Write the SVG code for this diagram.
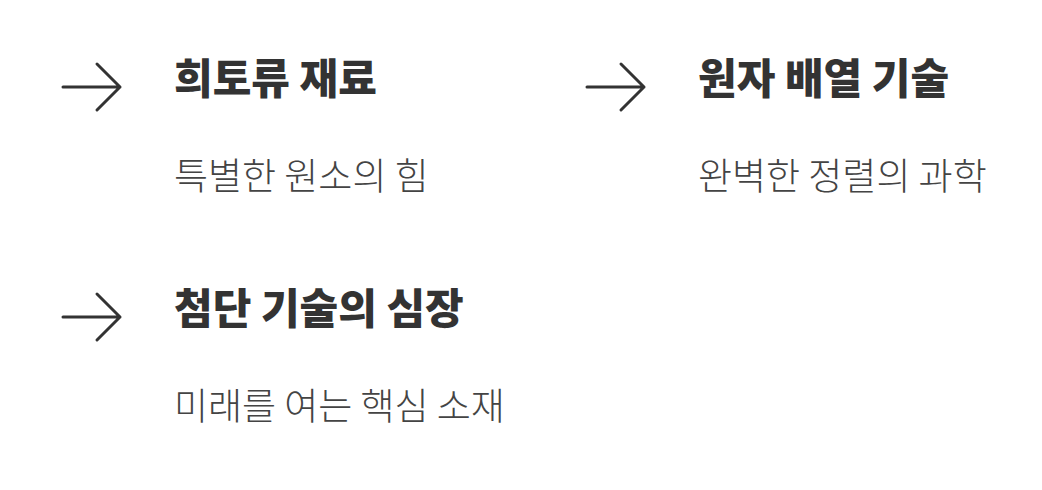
<svg xmlns="http://www.w3.org/2000/svg" width="1042" height="490" viewBox="0 0 1042 490">
<style>
.a{fill:none;stroke:#333;stroke-width:3;stroke-linecap:round;stroke-linejoin:round}
.t{font-family:"Noto Sans CJK KR",sans-serif;font-weight:900;font-size:42px;fill:#333}
.s{font-family:"Noto Sans CJK KR",sans-serif;font-weight:300;font-size:37px;fill:#444}
</style>
<rect width="1042" height="490" fill="#fff"/>
<g id="connectors">
<path class="a" d="M63 87H120M97 64L120 87L97 110"/>
<path class="a" d="M587 87H644M621 64L644 87L621 110"/>
<path class="a" d="M63 317H120M97 294L120 317L97 340"/>
</g>
<g id="n1"><text class="t" x="174" y="94">희토류 재료</text><text class="s" x="174" y="190">특별한 원소의 힘</text></g>
<g id="n2"><text class="t" x="698" y="94">원자 배열 기술</text><text class="s" x="698" y="190">완벽한 정렬의 과학</text></g>
<g id="n3"><text class="t" x="174" y="324">첨단 기술의 심장</text><text class="s" x="174" y="420">미래를 여는 핵심 소재</text></g>
</svg>
